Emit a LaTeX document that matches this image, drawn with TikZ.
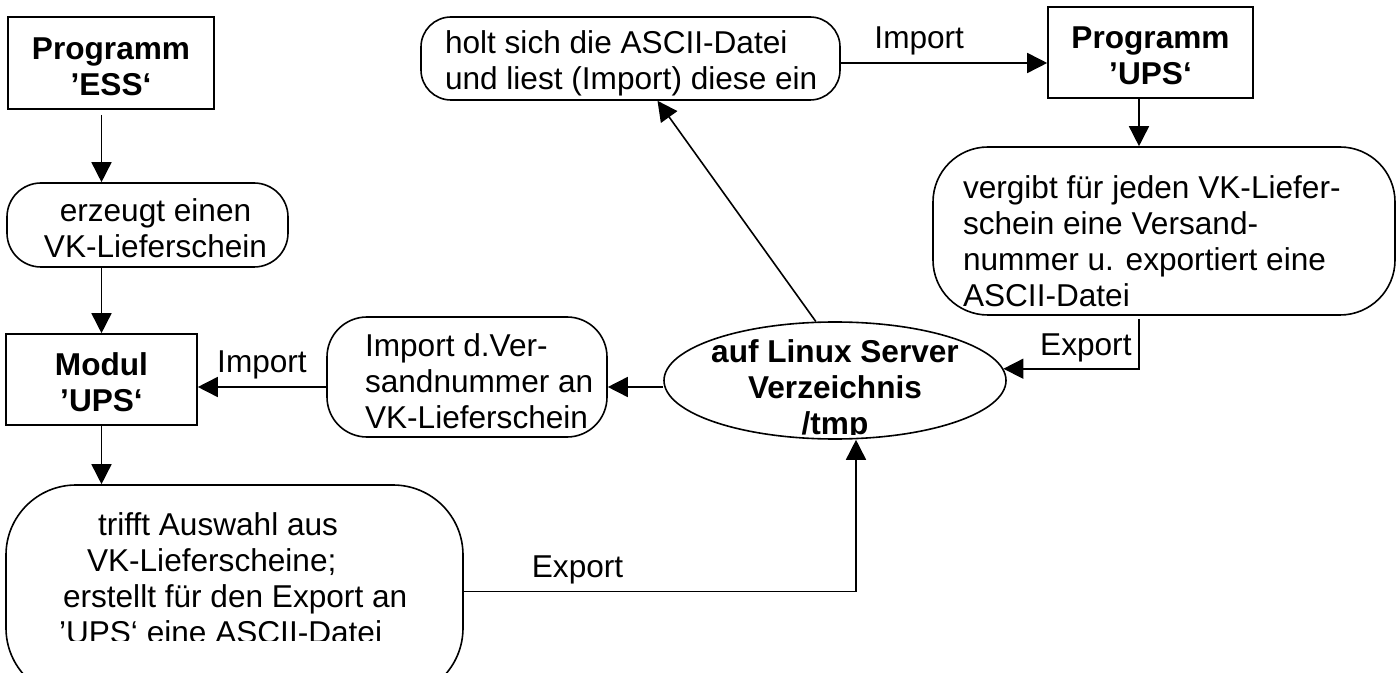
\documentclass[tikz,border=0pt]{standalone}
\usepackage{fontspec}
\setmainfont{Liberation Sans}
\usetikzlibrary{arrows.meta,positioning,shapes.geometric}
\newcommand\boxgap{\rule{0pt}{14.5pt}}
\begin{document}
\begin{tikzpicture}[x=0.5pt,y=-0.5pt,line width=0.8pt,
		>={Triangle[length=10pt,width=10pt]},
		every node/.style={font=\fontsize{15.8pt}{18pt}\selectfont},
		prog/.style={draw,minimum width=103pt,minimum height=46pt,align=center,
			font=\fontsize{15.8pt}{18pt}\selectfont\bfseries},
		task/.style={draw,rounded corners=#1},
		txt/.style={inner sep=0pt,align=left}]
		\useasboundingbox (0,0) rectangle (1397,673);
		% programs
		\node[prog] (ess) at (111,63) {\boxgap Programm\\’ESS‘};
		\node[prog,minimum width=95.5pt,minimum height=45.5pt] (modul) at (101.5,379.5) {\boxgap Modul\\’UPS‘};
		\node[prog,minimum width=102.5pt,minimum height=45.5pt] (ups) at (1150.5,52.5) {\boxgap Programm\\’UPS‘};
		% steps
		\node[task=17pt,minimum width=140.5pt,minimum height=42pt] (produce) at (147.5,225) {};
		\node[txt,align=center,xshift=4pt,yshift=-1.75pt] (producetxt) at (produce.center) {erzeugt einen\\VK-Lieferschein};
		\node[task=15pt,minimum width=209.5pt,minimum height=41.5pt] (fetch) at (630.5,58.5) {};
		\node[txt,right=12pt of fetch.west,yshift=-2.5pt] (fetchtxt) {holt sich die ASCII-Datei\\und liest (Import) diese ein};
		\node[task=20pt,minimum width=140pt,minimum height=60pt] (import) at (467,377) {};
		\node[txt,right=19pt of import.west,yshift=-2.25pt] (importtxt) {Import d.Ver-\\sandnummer an\\VK-Lieferschein};
		\node[task=27.5pt,minimum width=231pt,minimum height=84pt] (assign) at (1164,231) {};
		\node[txt,right=15pt of assign.west,yshift=-5pt] (assigntxt) {vergibt für jeden VK-Liefer-\\schein eine Versand-\\nummer u. exportiert eine\\ASCII-Datei};
		\node[task=35pt,minimum width=228.5pt,minimum height=106.5pt] (select) at (234.5,591.5) {};
		\coordinate (cut) at (0,640);
		\begin{scope}
			\clip (select.north west) rectangle (select.east |- cut);
			\node[txt,right=26.5pt of select.west,yshift=6.5pt] (selecttxt) {\hspace*{19.5pt}trifft Auswahl aus\\\hspace*{14pt}VK-Lieferscheine;\\\hspace*{2pt}erstellt für den Export an\\’UPS‘ eine ASCII-Datei};
		\end{scope}
		% server directory
		\node[draw,ellipse,inner sep=0pt,minimum width=171pt,minimum height=58.5pt] (server) at (835,380.5) {};
		\coordinate (cut2) at (0,435);
		\begin{scope}
			\clip (server.west |- server.north) rectangle (server.east |- cut2);
			\node[txt,align=center,yshift=-4.75pt,font=\fontsize{15.8pt}{18pt}\selectfont\bfseries] (servertxt) at (server.center) {auf Linux Server\\Verzeichnis\\/tmp};
		\end{scope}
		% flow
		\coordinate (lane) at (0,387);
		\coordinate (upsdrop) at ([xshift=-5.75pt]ups.south);
		\draw[->,shorten <=2.5pt] (ess.south -| modul) -- (produce.north -| modul);
		\draw[->] (produce.south -| modul) -- (modul.north);
		\draw[->] (modul.south) -- (select.north -| modul);
		\draw[->] (select.east) -| node[pos=0.145,above] {Export} ([xshift=10.5pt]server.south);
		\draw[->] (server.west |- lane) -- (import.east |- lane);
		\draw[->] (import.west |- lane) -- node[above] {Import} (modul.east |- lane);
		\draw[->] (server.108) -- ([xshift=13.5pt]fetch.south);
		\draw[->] ([yshift=-2.25pt]fetch.east) -- node[pos=0.38,above] {Import} ([yshift=-2.25pt]fetch.east -| ups.west);
		\draw[->] (upsdrop) -- (upsdrop |- assign.north);
		\draw[->,shorten <=1.5pt] (upsdrop |- assign.south) |- node[pos=0.3,left] {Export} (server.4);
	\end{tikzpicture}
\end{document}
